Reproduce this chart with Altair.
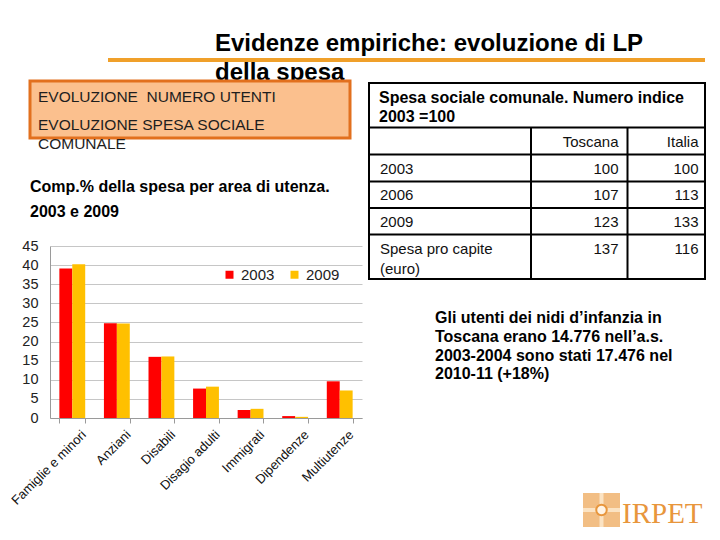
import altair as alt
import pandas as pd

# ---------------- data ----------------
categories = ["Famiglie e minori", "Anziani", "Disabili", "Disagio adulti",
              "Immigrati", "Dipendenze", "Multiutenze"]
years = ["2003", "2009"]
share_2003 = [39.1, 24.8, 16.0, 7.7, 2.1, 0.5, 9.6]
share_2009 = [40.2, 24.7, 16.1, 8.2, 2.4, 0.3, 7.2]
y_ticks = [0, 5, 10, 15, 20, 25, 30, 35, 40, 45]

table_rows = ["2003", "2006", "2009", "Spesa pro capite\n(euro)"]
table_cols = ["Toscana", "Italia"]
toscana = [100, 107, 123, 137]
italia = [100, 113, 133, 116]

title_lines = ["Evidenze empiriche: evoluzione di LP", "della spesa"]
box_lines = ["EVOLUZIONE\u00a0 NUMERO UTENTI", "EVOLUZIONE SPESA SOCIALE", "COMUNALE"]
caption_lines = ["Comp.% della spesa per area di utenza.", "2003 e 2009"]
table_title = ["Spesa sociale comunale. Numero indice", "2003 =100"]
note_lines = ["Gli utenti dei nidi d\u2019infanzia in",
              "Toscana erano 14.776 nell\u2019a.s.",
              "2003-2004 sono stati 17.476 nel",
              "2010-11 (+18%)"]
logo_text = "IRPET"

# ---------------- layout helpers ----------------
FONT = "Liberation Sans"
OX, OY = 50, 246      # page position of the bar plot origin
W, H = 312, 172       # bar plot size


def px(x):
    return x - OX


def py(y):
    return y - OY


one = pd.DataFrame({"k": [0]})


def text_at(txt, x, y, size, weight="normal", color="#000000", font=FONT, align="left"):
    return alt.Chart(one).mark_text(
        text=txt, align=align, baseline="alphabetic", fontSize=size,
        fontWeight=weight, color=color, font=font
    ).encode(x=alt.value(px(x)), y=alt.value(py(y)))


def rect_at(x1, y1, x2, y2, fill, stroke="#000000", sw=0, fill_opacity=1):
    return alt.Chart(one).mark_rect(
        fill=fill, stroke=stroke, strokeWidth=sw, fillOpacity=fill_opacity
    ).encode(x=alt.value(px(x1)), x2=alt.value(px(x2)),
             y=alt.value(py(y1)), y2=alt.value(py(y2)))


def rule_at(x1, y1, x2, y2, color, sw):
    return alt.Chart(one).mark_rule(color=color, strokeWidth=sw).encode(
        x=alt.value(px(x1)), x2=alt.value(px(x2)),
        y=alt.value(py(y1)), y2=alt.value(py(y2)))


layers = []

# title + orange rule
layers.append(text_at(title_lines[0], 215, 51, 24, "bold"))
layers.append(text_at(title_lines[1], 215, 80, 24, "bold"))
layers.append(rule_at(108, 60, 705, 60, "#F0A02A", 4))

# orange box
layers.append(rect_at(30, 81, 350, 138, "#FBC08E", "#E2701E", 3))
for txt, yb in zip(box_lines, [102, 130, 149]):
    layers.append(text_at(txt, 38, yb, 15.5, color="#1E1E1E"))

# chart caption
layers.append(text_at(caption_lines[0], 30, 192, 16, "bold"))
layers.append(text_at(caption_lines[1], 30, 217, 16, "bold"))

# table frame
layers.append(rect_at(369, 83, 705, 279, "#FFFFFF", "#000000", 2, 0))
for yl in [127.5, 154.5, 181.5, 208, 234.5]:
    layers.append(rule_at(369, yl, 705, yl, "#000000", 2))
for xl in [531, 627.5]:
    layers.append(rule_at(xl, 127.5, xl, 279, "#000000", 2))
layers.append(text_at(table_title[0], 379, 103, 16, "bold"))
layers.append(text_at(table_title[1], 379, 122, 16, "bold"))

# table content (data driven)
table_df = pd.DataFrame({"riga": table_rows, "Toscana": toscana, "Italia": italia})
row_scale = alt.Scale(domain=table_rows, range=[py(161.5), py(241.5)], padding=0)
col_scale = alt.Scale(domain=table_cols, range=[px(618.5), px(698.5)], padding=0)

row_labels = alt.Chart(table_df).mark_text(
    align="left", baseline="top", fontSize=15, font=FONT, lineBreak="\n",
    lineHeight=20, color="#111111"
).encode(
    x=alt.value(px(380)),
    y=alt.Y("riga:N", scale=row_scale, axis=None),
    text="riga:N",
)
layers.append(row_labels)

cell_values = alt.Chart(table_df).transform_fold(
    table_cols, as_=["colonna", "valore"]
).mark_text(
    align="right", baseline="top", fontSize=15, font=FONT, color="#111111"
).encode(
    x=alt.X("colonna:N", scale=col_scale, axis=None),
    y=alt.Y("riga:N", scale=row_scale, axis=None),
    text="valore:Q",
)
layers.append(cell_values)

header = alt.Chart(pd.DataFrame({"colonna": table_cols})).mark_text(
    align="right", baseline="top", fontSize=15, font=FONT, color="#111111"
).encode(
    x=alt.X("colonna:N", scale=col_scale, axis=None),
    y=alt.value(py(134.5)),
    text="colonna:N",
)
layers.append(header)

# note
for txt, yb in zip(note_lines, [323, 342, 361, 379]):
    layers.append(text_at(txt, 435, yb, 16, "bold"))

# logo
layers.append(rect_at(583, 493, 620, 527, "#F2BE84"))
layers.append(rect_at(583, 508, 620, 512, "#FBE3C3"))
layers.append(rect_at(599.5, 493, 603.5, 527, "#FBE3C3"))
layers.append(
    alt.Chart(one).mark_point(shape="circle", size=110, fill="#FFF4E6", filled=True,
                              stroke="#E8963C", strokeWidth=2, opacity=1)
    .encode(x=alt.value(px(601.5)), y=alt.value(py(510)))
)
layers.append(text_at(logo_text, 622, 523, 29, color="#E8963C", font="Liberation Serif"))

# bars
bars_df = pd.DataFrame({
    "area": categories * 2,
    "anno": [years[0]] * len(categories) + [years[1]] * len(categories),
    "quota": share_2003 + share_2009,
})

bars = alt.Chart(bars_df).mark_bar().encode(
    x=alt.X(
        "area:N", sort=categories, title=None,
        scale=alt.Scale(paddingInner=0.42, paddingOuter=0.21),
        axis=alt.Axis(labelAngle=-45, labelFontSize=13, labelFont=FONT,
                      labelColor="#111111", tickBand="extent", tickSize=5,
                      tickColor="#9A9A9A", domainColor="#9A9A9A",
                      labelPadding=5, labelOffset=7),
    ),
    xOffset=alt.XOffset("anno:N", sort=years),
    y=alt.Y(
        "quota:Q", title=None,
        scale=alt.Scale(domain=[0, 45], nice=False),
        axis=alt.Axis(values=y_ticks, grid=True, gridColor="#C6C6C6", ticks=False,
                      domainColor="#9A9A9A", labelFontSize=14.5, labelPadding=12,
                      labelColor="#222222", labelFont=FONT),
    ),
    color=alt.Color(
        "anno:N", sort=years,
        scale=alt.Scale(domain=years, range=["#FF0000", "#FFC000"]),
        legend=alt.Legend(title=None, orient="none", legendX=172, legendY=21,
                          direction="horizontal", symbolType="square",
                          symbolSize=64, symbolStrokeWidth=0, labelFontSize=15,
                          labelFont=FONT, labelColor="#222222",
                          columnPadding=12, labelOffset=4),
    ),
)
layers.append(bars)

chart = alt.layer(*layers).resolve_scale(
    x="independent", y="independent"
).properties(
    width=W, height=H,
    padding={"left": OX - 8, "top": OY - 8, "right": 712 - (OX + W), "bottom": 532 - (OY + H)},
    autosize=alt.AutoSizeParams(type="none"),
    background="white",
).configure_view(stroke=None)

chart.save("out.html", embed_options={"renderer": "svg", "actions": False})
